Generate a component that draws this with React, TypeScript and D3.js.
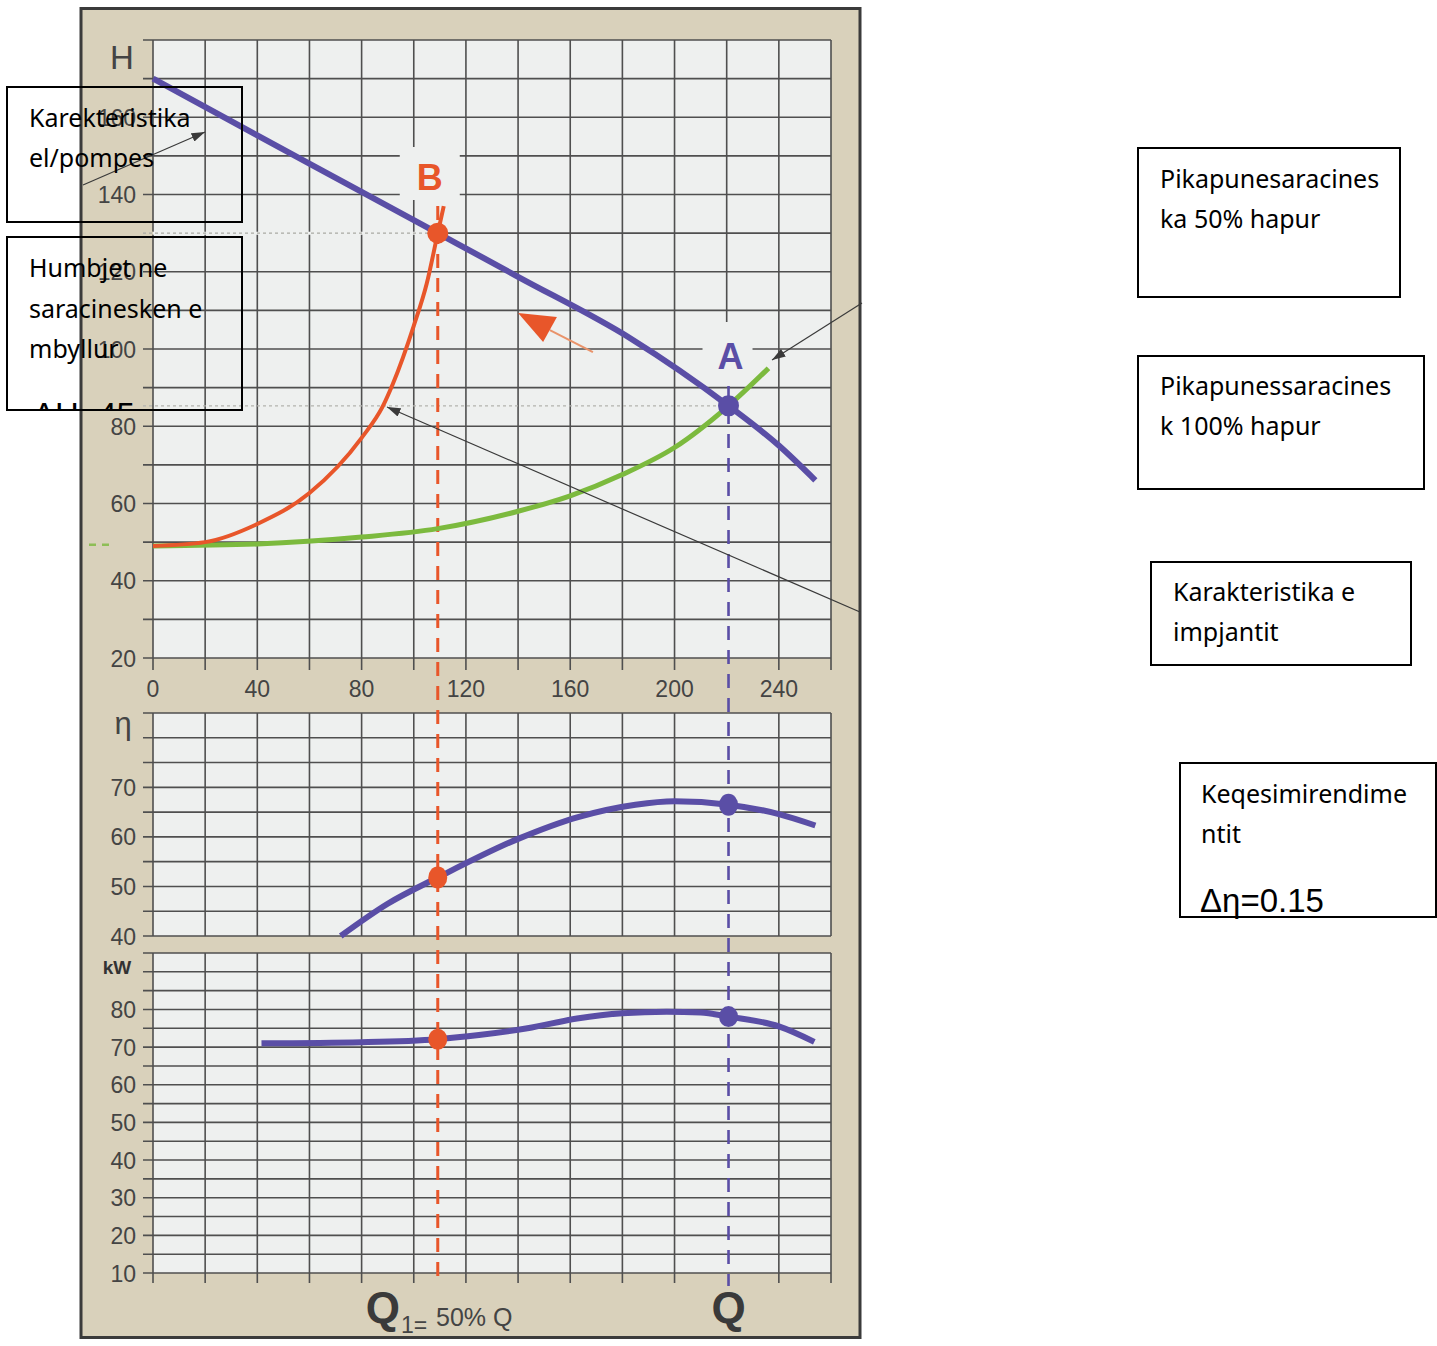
import React from "react";
import * as d3 from "d3";

// ---- tick labels ----
const Q_TICKS = [0, 40, 80, 120, 160, 200, 240];
const H_TICKS = [20, 40, 60, 80, 100, 120, 140, 160];
const ETA_TICKS = [40, 50, 60, 70];
const KW_TICKS = [10, 20, 30, 40, 50, 60, 70, 80];

// ---- series (Q in m3/h, H in m, eta in %, P in kW) ----
const pumpQ = [0, 40, 80, 109.2, 140, 183, 220.7, 240, 254];
const pumpH = [170, 155.3, 140.7, 130, 118.7, 102.8, 85.3, 75, 66];

const valveQ = [0, 20, 40, 60, 80, 88, 92, 100, 105, 109.2, 111.5];
const valveH = [49, 50, 54.7, 62.7, 77, 85, 91, 106, 117, 130, 137];

const systemQ = [0, 40, 80, 109.2, 140, 160, 180, 200, 220.7, 236];
const systemH = [49, 49.5, 51.3, 53.5, 58, 62, 67.5, 74.5, 85.3, 95];

const etaQ = [72, 90, 109.2, 140, 163, 185, 200, 220.7, 240, 254];
const etaV = [40, 46.5, 51.8, 59.6, 64, 66.5, 67.2, 66.5, 64.6, 62.3];

const kwQ = [41.6, 80, 109.2, 125, 143.6, 162.6, 180, 197, 210, 220.7, 240, 253.6];
const kwV = [71, 71.3, 72.1, 73.2, 75, 77.6, 79, 79.4, 79.2, 78.1, 75.5, 71.4];

// operating points: B (valve 50%), A (valve 100%)
const opLabels = ["B", "A"];
const opQ = [109.2, 220.7];
const opH = [130, 85.3];
const opEta = [51.8, 66.5];
const opKw = [72.1, 78.1];

// direction arrow in chart units
const dirArrowQ = [140, 154.9, 149.6];
const dirArrowH = [109.3, 108.3, 101.8];
const dirTailQ = [152.2, 168.7];
const dirTailH = [104.9, 99.2];

const BLUE = "#5a4ea6";
const ORANGE = "#e8562a";
const GREEN = "#7cba3e";
const BEIGE = "#d9d1bb";
const PLOTBG = "#eef0ef";
const GRID = "#4f4f4f";
const TXT = "#444444";
const SANS = "'Liberation Sans', Arial, sans-serif";
const NOTE = "'Noto Sans', 'Open Sans', sans-serif";

const zip = (a: number[], b: number[]) => a.map((v, i) => [v, b[i]] as [number, number]);

export default function App() {
  const x = d3.scaleLinear().domain([0, 260]).range([153, 831]);
  const yH = d3.scaleLinear().domain([20, 180]).range([658, 40]);
  const yE = d3.scaleLinear().domain([40, 85]).range([936, 713]);
  const yK = d3.scaleLinear().domain([10, 95]).range([1273, 953]);
  const curve = d3.curveMonotoneX;

  const mk = (y: d3.ScaleLinear<number, number>) =>
    d3.line<[number, number]>().x((d) => x(d[0])).y((d) => y(d[1])).curve(curve);

  const lineH = mk(yH);
  const lineE = mk(yE);
  const lineK = mk(yK);

  const qGrid = d3.range(0, 261, 20);
  const hGrid = d3.range(20, 181, 10);
  const eGrid = d3.range(40, 86, 5);
  const kGrid = d3.range(10, 96, 5);

  const xL = x(0);
  const xR = x(260);
  const tickL = xL - 10;

  const xB = x(opQ[0]);
  const xA = x(opQ[1]);

  const hLines = (vals: number[], y: d3.ScaleLinear<number, number>, key: string) =>
    vals.map((v) => (
      <line key={key + v} x1={tickL} x2={xR} y1={y(v)} y2={y(v)} stroke={GRID} strokeWidth={1.6} />
    ));

  const vLines = (y0: number, y1: number, key: string, skipA: boolean) =>
    qGrid
      .filter((q) => !(skipA && q === 220))
      .map((q) => <line key={key + q} x1={x(q)} x2={x(q)} y1={y0} y2={y1} stroke={GRID} strokeWidth={1.6} />);

  return (
    <div style={{ position: "absolute", left: 0, top: 0 }}>
      <svg width={1437} height={1346} viewBox="0 0 1437 1346" style={{ display: "block", background: "#ffffff" }}>
        <defs>
          <marker id="ah" viewBox="0 0 12 8" refX="12" refY="4" markerWidth="14" markerHeight="9" markerUnits="userSpaceOnUse" orient="auto">
            <path d="M0,0 L12,4 L0,8 z" fill="#3a3a3a" />
          </marker>
          <clipPath id="box2clip">
            <rect x={7} y={237} width={235} height={173} />
          </clipPath>
        </defs>

        {/* panel */}
        <rect x={81} y={8.5} width={779} height={1329} fill={BEIGE} stroke="#3b3b3b" strokeWidth={3} />

        {/* plot backgrounds */}
        <rect x={xL} y={yH(180)} width={xR - xL} height={yH(20) - yH(180)} fill={PLOTBG} />
        <rect x={xL} y={yE(85)} width={xR - xL} height={yE(40) - yE(85)} fill={PLOTBG} />
        <rect x={xL} y={yK(95)} width={xR - xL} height={yK(10) - yK(95)} fill={PLOTBG} />

        {/* grids: top chart */}
        {hLines(hGrid, yH, "hh")}
        {vLines(yH(180), yH(20) + 12, "hv", true)}
        <line x1={x(220)} x2={x(220)} y1={yH(180)} y2={322} stroke={GRID} strokeWidth={1.6} />
        {/* middle */}
        {hLines(eGrid, yE, "eh")}
        {vLines(yE(85), yE(40), "ev", true)}
        {/* bottom */}
        {hLines(kGrid, yK, "kh")}
        {vLines(yK(95), yK(10) + 10, "kv", true)}

        {/* gaps in grid around the point labels */}
        <rect x={xB - 38} y={147} width={60} height={53} fill={PLOTBG} />
        <rect x={xA - 26} y={322} width={50} height={60} fill={PLOTBG} />

        {/* dotted level lines */}
        <line x1={xL} x2={xB} y1={yH(opH[0])} y2={yH(opH[0])} stroke={PLOTBG} strokeWidth={3} />
        <line x1={tickL} x2={xL} y1={yH(opH[0])} y2={yH(opH[0])} stroke={BEIGE} strokeWidth={3} />
        <line x1={tickL} x2={xB} y1={yH(opH[0])} y2={yH(opH[0])} stroke="#a9a9a4" strokeWidth={1.2} strokeDasharray="3 3" />
        <line x1={tickL} x2={xA} y1={yH(opH[1])} y2={yH(opH[1])} stroke="#b3b3ae" strokeWidth={1.2} strokeDasharray="3 3" />

        {/* green dash marker on the left */}
        <line x1={89} x2={110} y1={yH(49.3)} y2={yH(49.3)} stroke={GREEN} strokeWidth={2.5} strokeDasharray="7 6" opacity={0.8} />

        {/* vertical dashed lines */}
        <line x1={xB} x2={xB} y1={206} y2={1286} stroke={ORANGE} strokeWidth={3} strokeDasharray="14 10" />
        <line x1={xA} x2={xA} y1={386} y2={1286} stroke={BLUE} strokeWidth={2.6} strokeDasharray="14 10" />

        {/* curves */}
        <path d={lineH(zip(systemQ, systemH)) || ""} fill="none" stroke={GREEN} strokeWidth={5} strokeLinecap="butt" />
        <path d={lineH(zip(valveQ, valveH)) || ""} fill="none" stroke={ORANGE} strokeWidth={4} />
        <path d={lineH(zip(pumpQ, pumpH)) || ""} fill="none" stroke={BLUE} strokeWidth={6} />
        <path d={lineE(zip(etaQ, etaV)) || ""} fill="none" stroke={BLUE} strokeWidth={6} />
        <path d={lineK(zip(kwQ, kwV)) || ""} fill="none" stroke={BLUE} strokeWidth={6} />

        {/* operating points */}
        {opQ.map((q, i) => {
          const c = i === 0 ? ORANGE : BLUE;
          return (
            <g key={"op" + i}>
              <circle cx={x(q)} cy={yH(opH[i])} r={10.5} fill={c} />
              <ellipse cx={x(q)} cy={yE(opEta[i])} rx={9.5} ry={11} fill={c} />
              <ellipse cx={x(q)} cy={yK(opKw[i])} rx={9.5} ry={10.5} fill={c} />
            </g>
          );
        })}
        <text x={xB - 8} y={yH(opH[0]) - 43} textAnchor="middle" fontFamily={SANS} fontWeight="bold" fontSize={36} fill={ORANGE}>
          {opLabels[0]}
        </text>
        <text x={xA + 2} y={yH(opH[1]) - 37} textAnchor="middle" fontFamily={SANS} fontWeight="bold" fontSize={36} fill={BLUE}>
          {opLabels[1]}
        </text>

        {/* direction arrow */}
        <line x1={x(dirTailQ[0])} y1={yH(dirTailH[0])} x2={x(dirTailQ[1])} y2={yH(dirTailH[1])} stroke="#e9936a" strokeWidth={2} />
        <polygon points={dirArrowQ.map((q, i) => `${x(q)},${yH(dirArrowH[i])}`).join(" ")} fill={ORANGE} />

        {/* axis labels */}
        <text x={122} y={69} textAnchor="middle" fontFamily={SANS} fontSize={33} fill={TXT}>H</text>
        {H_TICKS.map((t) => (
          <text key={"ht" + t} x={136} y={yH(t) + 8.5} textAnchor="end" fontFamily={SANS} fontSize={23} fill={TXT}>{t}</text>
        ))}
        {Q_TICKS.map((t) => (
          <text key={"qt" + t} x={x(t)} y={697} textAnchor="middle" fontFamily={SANS} fontSize={23} fill={TXT}>{t}</text>
        ))}
        <text x={123} y={734} textAnchor="middle" fontFamily={SANS} fontSize={31} fill={TXT}>η</text>
        {ETA_TICKS.map((t) => (
          <text key={"et" + t} x={136} y={yE(t) + 8.5} textAnchor="end" fontFamily={SANS} fontSize={23} fill={TXT}>{t}</text>
        ))}
        <text x={117} y={974} textAnchor="middle" fontFamily={SANS} fontSize={19} fontWeight="bold" fill="#333">kW</text>
        {KW_TICKS.map((t) => (
          <text key={"kt" + t} x={136} y={yK(t) + 8.5} textAnchor="end" fontFamily={SANS} fontSize={23} fill={TXT}>{t}</text>
        ))}

        {/* Q labels */}
        <text x={xB - 55} y={1323} textAnchor="middle" fontFamily={SANS} fontWeight="bold" fontSize={44} fill="#3a3a3a">Q</text>
        <text x={401} y={1333} fontFamily={SANS} fontSize={23} fill={TXT}>1=</text>
        <text x={436} y={1326} fontFamily={SANS} fontSize={25} fill={TXT}>50% Q</text>
        <text x={xA} y={1323} textAnchor="middle" fontFamily={SANS} fontWeight="bold" fontSize={44} fill="#3a3a3a">Q</text>

        {/* ---- overlay annotations ---- */}
        <line x1={83} y1={185} x2={205} y2={132} stroke="#3a3a3a" strokeWidth={1.2} markerEnd="url(#ah)" />
        <line x1={862} y1={303} x2={772} y2={360} stroke="#3a3a3a" strokeWidth={1.2} markerEnd="url(#ah)" />
        <line x1={860} y1={612} x2={387} y2={407} stroke="#3a3a3a" strokeWidth={1.2} markerEnd="url(#ah)" />

        <rect x={7} y={87} width={235} height={135} fill="none" stroke="#000" strokeWidth={2} />
        <text fontFamily={NOTE} fontSize={25} fill="#000">
          <tspan x={29} y={127}>Karekteristika</tspan>
          <tspan x={29} y={167}>el/pompes</tspan>
        </text>

        <rect x={7} y={237} width={235} height={173} fill="none" stroke="#000" strokeWidth={2} />
        <g clipPath="url(#box2clip)">
          <text fontFamily={NOTE} fontSize={25} fill="#000">
            <tspan x={29} y={277}>Humbjet ne</tspan>
            <tspan x={29} y={318}>saracinesken e</tspan>
            <tspan x={29} y={358}>mbyllur</tspan>
          </text>
          <text x={33} y={426} fontFamily={SANS} fontSize={33} fill="#000">ΔH=45</text>
        </g>

        <rect x={1138} y={148} width={262} height={149} fill="none" stroke="#000" strokeWidth={2} />
        <text fontFamily={NOTE} fontSize={25} fill="#000">
          <tspan x={1160} y={188}>Pikapunesaracines</tspan>
          <tspan x={1160} y={228}>ka 50% hapur</tspan>
        </text>

        <rect x={1138} y={356} width={286} height={133} fill="none" stroke="#000" strokeWidth={2} />
        <text fontFamily={NOTE} fontSize={25} fill="#000">
          <tspan x={1160} y={395}>Pikapunessaracines</tspan>
          <tspan x={1160} y={435}>k 100% hapur</tspan>
        </text>

        <rect x={1151} y={562} width={260} height={103} fill="none" stroke="#000" strokeWidth={2} />
        <text fontFamily={NOTE} fontSize={25} fill="#000">
          <tspan x={1173} y={601}>Karakteristika e</tspan>
          <tspan x={1173} y={641}>impjantit</tspan>
        </text>

        <rect x={1180} y={763} width={256} height={154} fill="none" stroke="#000" strokeWidth={2} />
        <text fontFamily={NOTE} fontSize={25} fill="#000">
          <tspan x={1201} y={803}>Keqesimirendime</tspan>
          <tspan x={1201} y={843}>ntit</tspan>
        </text>
        <text x={1200} y={912} fontFamily={SANS} fontSize={33} fill="#000">Δη=0.15</text>
      </svg>
    </div>
  );
}
